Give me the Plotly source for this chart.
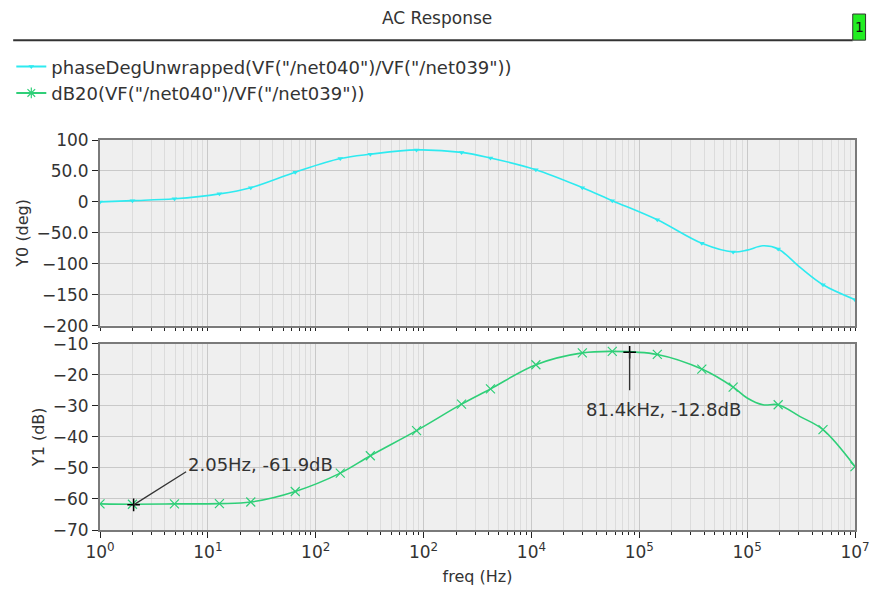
import math
import plotly.graph_objects as go

# Sample points of the AC sweep (frequency in Hz)
freq_hz = [1, 2, 4.9, 12.8, 25, 64.6, 169, 321, 861, 2250, 4170, 11000, 29650,
           56200, 147000, 380000, 742000, 1.0e6, 1.4e6, 1.94e6, 3.1e6, 5.05e6, 1.0e7]
phase_deg = [0, 2, 5, 13, 23, 48, 70, 77, 84, 80, 71, 52, 23,
             2, -29, -67, -81, -78, -71, -76, -106, -134, -158]
gain_db = [-61.6, -61.7, -61.6, -61.5, -61.0, -57.6, -51.7, -46.1, -38.0, -29.5, -24.6, -16.8, -13.0,
           -12.5, -13.5, -18.2, -24.0, -27.5, -29.7, -29.7, -33.5, -37.7, -49.6]
# Which samples carry a symbol on the curve
is_marked = [True, True, True, True, True, True, True, True, True, True, True, True, True,
             True, True, True, True, False, False, True, False, True, True]

# Marker readouts on the dB curve
readout_freq_hz = [2.05, 81.4e3]
readout_db = [-61.9, -12.8]
readout_text = ["2.05Hz, -61.9dB", "81.4kHz, -12.8dB"]

# Axis labelling
x_tickvals = [1, 10, 100, 1e3, 1e4, 1e5, 1e6, 1e7]
x_ticktext = ["10<sup>0</sup>", "10<sup>1</sup>", "10<sup>2</sup>", "10<sup>2</sup>",
              "10<sup>4</sup>", "10<sup>5</sup>", "10<sup>5</sup>", "10<sup>7</sup>"]
y0_tickvals = [100, 50, 0, -50, -100, -150, -200]
y0_ticktext = ["100", "50.0", "0", "\u221250.0", "\u2212100", "\u2212150", "\u2212200"]
y1_tickvals = [-10, -20, -30, -40, -50, -60, -70]
y1_ticktext = ["\u221210", "\u221220", "\u221230", "\u221240", "\u221250", "\u221260", "\u221270"]

phase_name = 'phaseDegUnwrapped(VF("/net040")/VF("/net039"))'
db_name = 'dB20(VF("/net040")/VF("/net039"))'

CYAN = "#2EEAF0"
GREEN = "#2FCF78"
FONT = "DejaVu Sans"
TXT = "#333333"

mk_f = [f for f, m in zip(freq_hz, is_marked) if m]
mk_p = [p for p, m in zip(phase_deg, is_marked) if m]
mk_d = [d for d, m in zip(gain_db, is_marked) if m]

fig = go.Figure()

# Phase curve (top panel)
fig.add_trace(go.Scatter(x=freq_hz, y=phase_deg, mode="lines", line=dict(color=CYAN, width=1.6, shape="spline"),
                         xaxis="x", yaxis="y", showlegend=False, hoverinfo="skip"))
fig.add_trace(go.Scatter(x=mk_f, y=mk_p, mode="markers",
                         marker=dict(symbol="triangle-down", size=5, color=CYAN),
                         xaxis="x", yaxis="y", showlegend=False))

# Gain curve (bottom panel)
fig.add_trace(go.Scatter(x=freq_hz, y=gain_db, mode="lines", line=dict(color=GREEN, width=1.6, shape="spline"),
                         xaxis="x2", yaxis="y2", showlegend=False, hoverinfo="skip"))
fig.add_trace(go.Scatter(x=mk_f, y=mk_d, mode="markers",
                         marker=dict(symbol="x-thin-open", size=9, color=GREEN, line=dict(color=GREEN, width=1.2)),
                         xaxis="x2", yaxis="y2", showlegend=False))

# Readout crosses
fig.add_trace(go.Scatter(x=readout_freq_hz, y=readout_db, mode="markers",
                         marker=dict(symbol="cross-thin-open", size=9, color="black",
                                     line=dict(color="black", width=1.5)),
                         xaxis="x2", yaxis="y2", showlegend=False))

# Legend entries
fig.add_trace(go.Scatter(x=[None], y=[None], mode="lines+markers", name=phase_name,
                         line=dict(color=CYAN, width=2),
                         marker=dict(symbol="triangle-down", size=5, color=CYAN),
                         xaxis="x", yaxis="y"))
fig.add_trace(go.Scatter(x=[None], y=[None], mode="lines+markers", name=db_name,
                         line=dict(color=GREEN, width=2),
                         marker=dict(symbol="asterisk-open", size=9, color=GREEN,
                                     line=dict(color=GREEN, width=1.2)),
                         xaxis="x", yaxis="y"))

grid_major = "#C9C9C9"
grid_minor = "#DCDCDC"
axis_common = dict(showline=True, linecolor="#7A7A7A", linewidth=2, mirror=True,
                   gridcolor=grid_major, gridwidth=1.3, zeroline=False, automargin=False,
                   tickfont=dict(family=FONT, size=17, color=TXT))

xaxis_common = dict(axis_common, type="log", range=[0, 7], tickmode="array",
                    tickvals=x_tickvals,
                    minor=dict(dtick="D1", showgrid=True, gridcolor=grid_minor, gridwidth=1,
                               ticks="outside", ticklen=3, tickcolor="#222"))

fig.update_layout(
    width=876, height=589,
    margin=dict(l=99, r=21, t=140, b=59),
    paper_bgcolor="white", plot_bgcolor="#EFEFEF",
    font=dict(family=FONT, color=TXT),
    xaxis=dict(xaxis_common, domain=[0, 1], anchor="y", matches="x2", showticklabels=False, ticks=""),
    yaxis=dict(axis_common, domain=[0.524, 1], range=[-200, 100], tickmode="array",
               tickvals=y0_tickvals, ticktext=y0_ticktext, ticks="outside", ticklen=6, tickcolor="#222",
               title=dict(text="Y0 (deg)", font=dict(family=FONT, size=16, color=TXT), standoff=4)),
    xaxis2=dict(xaxis_common, domain=[0, 1], anchor="y2", ticktext=x_ticktext,
                ticks="outside", ticklen=6, tickcolor="#222",
                title=dict(text="freq (Hz)", font=dict(family=FONT, size=16, color=TXT), standoff=9)),
    yaxis2=dict(axis_common, domain=[0, 0.478], range=[-70, -10], tickmode="array",
                tickvals=y1_tickvals, ticktext=y1_ticktext, ticks="outside", ticklen=6, tickcolor="#222",
                title=dict(text="Y1 (dB)", font=dict(family=FONT, size=16, color=TXT), standoff=4)),
    legend=dict(x=-0.116, y=1.235, xanchor="left", yanchor="top", bgcolor="rgba(0,0,0,0)",
                font=dict(family=FONT, size=18, color=TXT), itemwidth=30, tracegroupgap=0),
    showlegend=True,
)

# Header: title, rule and the panel-number box
fig.add_annotation(text="AC Response", xref="paper", yref="paper", x=0.447, y=1.313,
                   xanchor="center", yanchor="middle", showarrow=False,
                   font=dict(family=FONT, size=17, color=TXT))
fig.add_shape(type="line", xref="paper", yref="paper", x0=-0.115, x1=0.997, y0=1.256, y1=1.256,
              line=dict(color="#333", width=2))
fig.add_shape(type="rect", xref="paper", yref="paper", x0=0.997, x1=1.014, y0=1.256, y1=1.323,
              fillcolor="#22EE22", line=dict(color="#333", width=1))
fig.add_annotation(text="1", xref="paper", yref="paper", x=1.0055, y=1.289,
                   xanchor="center", yanchor="middle", showarrow=False,
                   font=dict(family=FONT, size=14, color="#111"))

# Readout pointers and labels
pointer = [(54, -34), (0, 40)]
label_shift = [(52, 40, "left"), (34, -57, "center")]
for f, d, t, (ax, ay), (xs, ys, anc) in zip(readout_freq_hz, readout_db, readout_text, pointer, label_shift):
    fig.add_annotation(x=math.log10(f), y=d, xref="x2", yref="y2", text=" ", showarrow=True,
                       ax=ax, ay=ay, arrowhead=0, arrowwidth=1.3, arrowcolor="#333", standoff=0,
                       font=dict(size=1))
    fig.add_annotation(x=math.log10(f), y=d, xref="x2", yref="y2", text=t, showarrow=False,
                       xshift=xs, yshift=ys, xanchor=anc, yanchor="middle",
                       font=dict(family=FONT, size=18, color=TXT))

fig.write_html("out.html")
